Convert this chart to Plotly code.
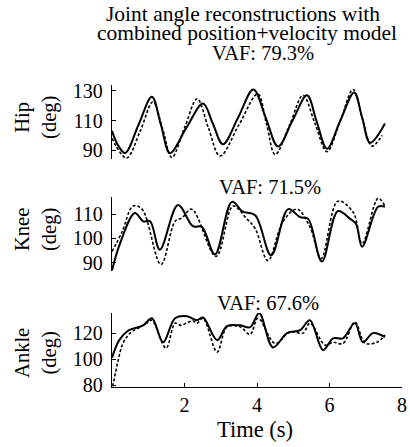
import plotly.graph_objects as go

# ---------------- data ----------------
hip_solid_t = [0, 0.15, 0.36, 0.73, 1.1, 1.35, 1.6, 2.05, 2.51, 2.78, 3.06, 3.48, 3.9, 4.24, 4.58, 4.98, 5.38, 5.65, 5.93, 6.3, 6.68, 6.9, 7.12, 7.53]
hip_solid_v = [103, 94, 88, 107, 126, 107, 88, 105, 121.5, 108, 94, 112, 131, 112, 92.5, 110, 127, 109, 91, 110, 129, 112, 95, 108]
hip_dash_t = [0, 0.4, 0.78, 1.13, 1.4, 1.65, 2.0, 2.35, 2.66, 2.98, 3.5, 4.02, 4.26, 4.5, 4.9, 5.27, 5.6, 5.93, 6.3, 6.65, 6.9, 7.17, 7.45]
hip_dash_v = [98, 84.7, 103, 122.7, 104, 85, 105, 124.7, 105, 86, 107, 128, 108, 87, 107, 127, 108, 89, 110, 131, 112, 92.7, 100]

knee_solid_t = [0, 0.22, 0.63, 0.86, 1.05, 1.32, 1.82, 2.23, 2.48, 2.84, 3.31, 3.61, 3.95, 4.39, 4.86, 5.19, 5.41, 5.79, 6.23, 6.57, 6.73, 6.9, 7.34, 7.53]
knee_solid_v = [86.7, 97.8, 110.4, 107, 107, 95.3, 113.7, 105, 104.7, 93.3, 115, 111, 109.5, 93, 112, 108.7, 108, 90.4, 111.2, 108, 106, 96.5, 113, 113]
knee_dash_t = [0, 0.28, 0.58, 0.83, 1.35, 1.74, 1.93, 2.2, 2.87, 3.34, 3.72, 3.95, 4.3, 4.72, 5.1, 5.46, 5.77, 6.23, 6.65, 6.9, 7.34, 7.53]
knee_dash_v = [94.5, 102.7, 113.3, 112, 89.2, 107, 108.4, 112, 92.5, 113.3, 108, 104, 90.8, 107, 112, 104.7, 91.6, 115.3, 110.8, 97.8, 116.5, 113.3]

ankle_solid_t = [0, 0.2, 0.45, 0.86, 1.1, 1.41, 1.74, 2.07, 2.34, 2.51, 2.9, 3.17, 3.53, 3.81, 4.06, 4.44, 4.83, 5.19, 5.46, 5.82, 6.1, 6.37, 6.7, 6.92, 7.2, 7.53]
ankle_solid_v = [101, 114.6, 122, 126, 131.5, 113, 131.5, 133, 130, 132, 114.6, 125.4, 126, 124.6, 135.4, 109, 120, 122.3, 130, 107, 116, 116, 127.7, 113, 120, 117]
ankle_dash_t = [0.02, 0.17, 0.3, 0.5, 0.77, 0.97, 1.1, 1.49, 1.74, 1.9, 2.07, 2.23, 2.34, 2.51, 2.9, 3.17, 3.53, 3.81, 4.03, 4.5, 4.91, 5.27, 5.46, 5.88, 6.1, 6.37, 6.7, 6.98, 7.31, 7.53]
ankle_dash_v = [79, 99, 112, 120, 124.6, 128, 130, 108.5, 127.7, 126, 128, 129.5, 127.5, 131.5, 105.4, 124.6, 125, 119, 131.5, 112, 121, 120, 127.7, 110.8, 113, 112, 128.5, 112.3, 113, 118.5]

x_ticks = [2, 4, 6, 8]
hip_ticks = [90, 110, 130]
knee_ticks = [90, 100, 110]
ankle_ticks = [80, 100, 120]

FONT = "Liberation Serif, Times New Roman, serif"
TICK_SIZE = 20

fig = go.Figure()

def add_pair(ts, vs, td, vd, xa, ya):
    fig.add_trace(go.Scatter(x=ts, y=vs, mode="lines", xaxis=xa, yaxis=ya,
                             line=dict(color="black", width=2, shape="spline", smoothing=1.0),
                             showlegend=False, hoverinfo="skip"))
    fig.add_trace(go.Scatter(x=td, y=vd, mode="lines", xaxis=xa, yaxis=ya,
                             line=dict(color="black", width=1.6, dash="3px,2px", shape="spline", smoothing=1.0),
                             showlegend=False, hoverinfo="skip"))

add_pair(hip_solid_t, hip_solid_v, hip_dash_t, hip_dash_v, "x", "y")
add_pair(knee_solid_t, knee_solid_v, knee_dash_t, knee_dash_v, "x2", "y2")
add_pair(ankle_solid_t, ankle_solid_v, ankle_dash_t, ankle_dash_v, "x3", "y3")

yax_common = dict(showline=True, linecolor="black", linewidth=1.3, ticks="inside", ticklen=4,
                  tickcolor="black", showgrid=False, zeroline=False, automargin=False,
                  tickfont=dict(family=FONT, size=TICK_SIZE, color="black"), ticklabelstandoff=4)
xhidden = dict(range=[0, 8], showline=False, showticklabels=False, ticks="", showgrid=False,
               zeroline=False, automargin=False)

fig.update_layout(
    width=410, height=447,
    margin=dict(l=112, r=8, t=85, b=60),
    paper_bgcolor="white", plot_bgcolor="white",
    font=dict(family=FONT, size=20, color="black"),
    xaxis=dict(domain=[0, 1], anchor="y", **xhidden),
    xaxis2=dict(domain=[0, 1], anchor="y2", **xhidden),
    xaxis3=dict(domain=[0, 1], anchor="y3", range=[0, 8], showline=True, linecolor="black", linewidth=1.3,
                ticks="inside", ticklen=4, tickcolor="black", tickvals=x_ticks, showgrid=False, zeroline=False,
                automargin=False, tickfont=dict(family=FONT, size=TICK_SIZE, color="black")),
    yaxis=dict(domain=[0.755, 1.0], anchor="x", range=[84, 134], tickvals=hip_ticks, **yax_common),
    yaxis2=dict(domain=[0.384, 0.629], anchor="x2", range=[86.5, 117], tickvals=knee_ticks, **yax_common),
    yaxis3=dict(domain=[0.0, 0.245], anchor="x3", range=[78.5, 135.5], tickvals=ankle_ticks, **yax_common),
)

def ann(text, x, y, size, angle=0):
    fig.add_annotation(text=text, x=x, y=y, xref="paper", yref="paper", showarrow=False,
                       xanchor="center", yanchor="middle", textangle=angle,
                       font=dict(family=FONT, size=size, color="black"))

ann("Joint angle reconstructions with", 0.453, 1.235, 21.5)
ann("combined position+velocity model", 0.464, 1.172, 21.5)
ann("VAF: 79.3%", 0.519, 1.106, 20.5)
ann("VAF: 71.5%", 0.545, 0.662, 20.5)
ann("VAF: 67.6%", 0.538, 0.278, 20.5)
ann("Hip<br>(deg)", -0.262, 0.891, 20.5, -90)
ann("Knee<br>(deg)", -0.262, 0.520, 20.5, -90)
ann("Ankle<br>(deg)", -0.262, 0.113, 20.5, -90)
ann("Time (s)", 0.493, -0.142, 22.5)

fig.write_html("out.html", config={"displayModeBar": False, "staticPlot": True},
               post_script="document.body.style.margin='0';document.body.style.overflow='hidden';")
